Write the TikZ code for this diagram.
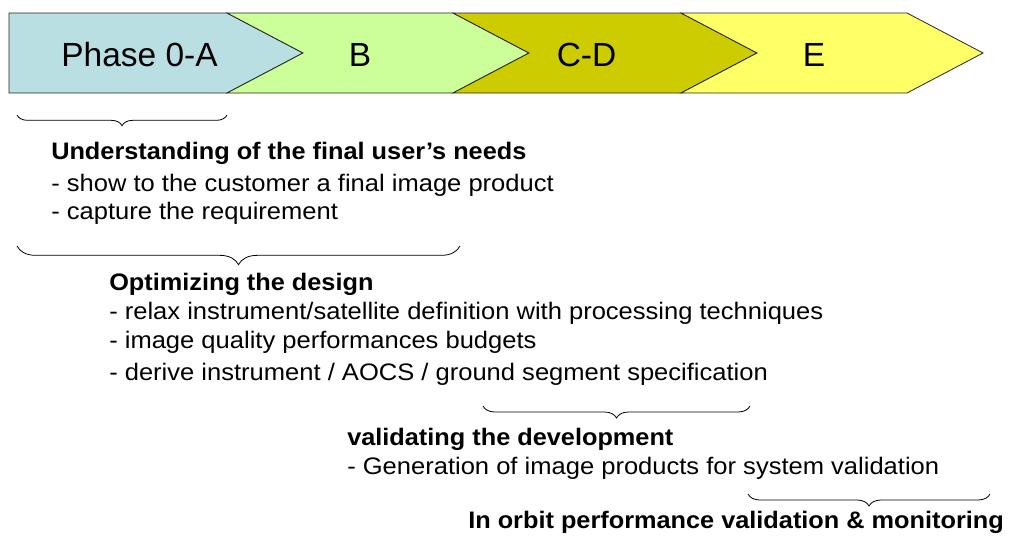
\documentclass[tikz,border=0pt]{standalone}
\usepackage{fontspec}
\setmainfont{Liberation Sans}
\newfontfamily\bodyfont[FakeStretch=1.07]{Liberation Sans}
\newfontfamily\headfont[FakeStretch=1.06]{Liberation Sans}
\usetikzlibrary{decorations.pathreplacing}
\definecolor{phA}{HTML}{B9DFE3}
\definecolor{phB}{HTML}{CCFF99}
\definecolor{phC}{HTML}{CCCC00}
\definecolor{phE}{HTML}{FFFF66}
\begin{document}
\begin{tikzpicture}[x=0.75pt,y=-0.75pt,
  seg/.style={draw=black!85,line width=0.6pt,line join=miter},
  phlabel/.style={font=\fontsize{25.1}{30}\selectfont,inner sep=0,anchor=base},
  head/.style={font=\headfont\bfseries\fontsize{17.9}{21}\selectfont,inner sep=0,anchor=base west},
  item/.style={font=\bodyfont\fontsize{17.9}{21}\selectfont,inner sep=0,anchor=base west},
  brc/.style={decorate,decoration={brace,mirror,amplitude=#1},line width=0.6pt,draw=black}]
\useasboundingbox (0,0) rectangle (1009,536);
% phase chevrons
\path[seg,fill=phA] (9,13) -- (227,13) -- (303,53) -- (227,93) -- (9,93) -- cycle;
\path[seg,fill=phB] (227,13) -- (453,13) -- (529,53) -- (453,93) -- (227,93) -- (303,53) -- cycle;
\path[seg,fill=phC] (453,13) -- (681,13) -- (757,53) -- (681,93) -- (453,93) -- (529,53) -- cycle;
\path[seg,fill=phE] (681,13) -- (907,13) -- (983,53) -- (907,93) -- (681,93) -- (757,53) -- cycle;
\node[phlabel] (pA) at (139.5,66) {Phase 0-A};
\node[phlabel] (pB) at (360,66) {B};
\node[phlabel] (pC) at (586.5,66) {C-D};
\node[phlabel] (pE) at (814,66) {E};
% braces
\coordinate (b1l) at (17,115); \coordinate (b1r) at (227,115);
\coordinate (b2l) at (17,246); \coordinate (b2r) at (460,246);
\coordinate (b3l) at (483,406); \coordinate (b3r) at (750,406);
\coordinate (b4l) at (748,494); \coordinate (b4r) at (990,494);
\draw[brc=8] (b1l) -- (b1r);
\draw[brc=14] (b2l) -- (b2r);
\draw[brc=9] (b3l) -- (b3r);
\draw[brc=9] (b4l) -- (b4r);
% texts
\node[head] (t1) at (51,159) {Understanding of the final user’s needs};
\node[item] (t2) at (51,191) {- show to the customer a final image product};
\node[item] (t3) at (51,219) {- capture the requirement};
\node[head] (t4) at (109,290) {Optimizing the design};
\node[item] (t5) at (109,319) {- relax instrument/satellite definition with processing techniques};
\node[item] (t6) at (109,348) {- image quality performances budgets};
\node[item] (t7) at (109,380) {- derive instrument / AOCS / ground segment specification};
\node[head] (t8) at (347,445) {validating the development};
\node[item] (t9) at (347,474) {- Generation of image products for system validation};
\node[head] (t10) at (468,528) {In orbit performance validation \& monitoring};
\end{tikzpicture}
\end{document}
